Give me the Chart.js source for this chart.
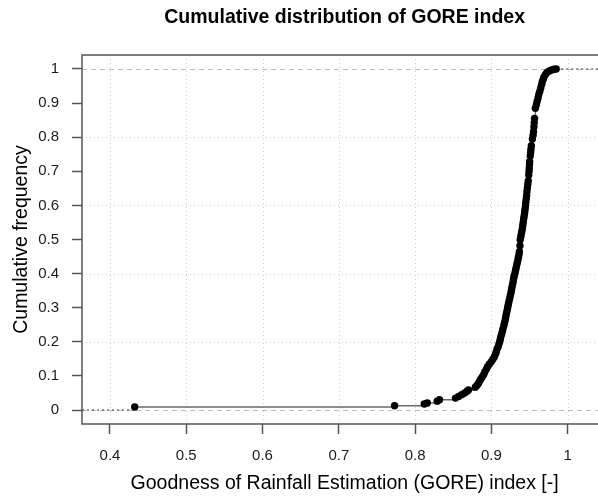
<!DOCTYPE html>
<html>
<head>
<meta charset="utf-8">
<script src="https://cdn.jsdelivr.net/npm/chart.js@4"></script>
<style>
  html, body { margin: 0; padding: 0; background: #fff; overflow: hidden; }
  /* the plot box of the original runs a little past the right edge, so the canvas is wider than the view */
  #wrap { width: 598px; height: 497px; overflow: hidden; }
</style>
</head>
<body>
<div id="wrap"><canvas id="gore-chart" width="611" height="497"></canvas></div>
<script>
// GORE index values (sorted) and their cumulative frequency
const goreIndex = [
  0.4324, 0.7731, 0.8120, 0.8160, 0.8290, 0.8320, 0.8530, 0.8570, 0.8610, 0.8650,
  0.8680, 0.8700, 0.8790, 0.8810, 0.8830, 0.8845, 0.8860, 0.8880, 0.8900, 0.8915,
  0.8935, 0.8950, 0.8975, 0.9000, 0.9020, 0.9040, 0.9055, 0.9065, 0.9075, 0.9090,
  0.9100, 0.9110, 0.9118, 0.9125, 0.9135, 0.9145, 0.9152, 0.9162, 0.9170, 0.9178,
  0.9185, 0.9190, 0.9198, 0.9205, 0.9212, 0.9218, 0.9225, 0.9232, 0.9240, 0.9248,
  0.9255, 0.9262, 0.9268, 0.9275, 0.9282, 0.9288, 0.9294, 0.9300, 0.9310, 0.9318,
  0.9325, 0.9332, 0.9340, 0.9348, 0.9355, 0.9362, 0.9368, 0.9375, 0.9378, 0.9385,
  0.9392, 0.9398, 0.9405, 0.9410, 0.9415, 0.9420, 0.9425, 0.9430, 0.9436, 0.9440,
  0.9445, 0.9448, 0.9452, 0.9458, 0.9462, 0.9466, 0.9472, 0.9478, 0.9484, 0.9490,
  0.9494, 0.9497, 0.9500, 0.9502, 0.9510, 0.9515, 0.9519, 0.9524, 0.9538, 0.9547,
  0.9553, 0.9558, 0.9562, 0.9566, 0.9577, 0.9590, 0.9600, 0.9612, 0.9622, 0.9636,
  0.9648, 0.9660, 0.9668, 0.9680, 0.9690, 0.9710, 0.9730, 0.9760, 0.9790, 0.9820,
  0.9850
];
const cumFreq = [
  0.0088, 0.0126, 0.0176, 0.0205, 0.0260, 0.0300, 0.0350, 0.0400, 0.0450, 0.0500,
  0.0550, 0.0590, 0.0670, 0.0720, 0.0780, 0.0840, 0.0900, 0.0970, 0.1040, 0.1120,
  0.1200, 0.1270, 0.1350, 0.1420, 0.1490, 0.1560, 0.1640, 0.1710, 0.1790, 0.1860,
  0.1940, 0.2010, 0.2080, 0.2160, 0.2230, 0.2310, 0.2380, 0.2460, 0.2530, 0.2600,
  0.2680, 0.2750, 0.2830, 0.2900, 0.2980, 0.3050, 0.3120, 0.3200, 0.3270, 0.3350,
  0.3420, 0.3500, 0.3570, 0.3650, 0.3720, 0.3800, 0.3870, 0.3940, 0.4020, 0.4100,
  0.4170, 0.4250, 0.4320, 0.4400, 0.4480, 0.4560, 0.4640, 0.4820, 0.4990, 0.5070,
  0.5150, 0.5220, 0.5300, 0.5380, 0.5460, 0.5540, 0.5620, 0.5700, 0.5780, 0.5860,
  0.5940, 0.6020, 0.6110, 0.6200, 0.6290, 0.6400, 0.6510, 0.6620, 0.6720, 0.6890,
  0.7000, 0.7100, 0.7200, 0.7280, 0.7450, 0.7550, 0.7650, 0.7750, 0.7950, 0.8060,
  0.8160, 0.8300, 0.8420, 0.8550, 0.8850, 0.8950, 0.9050, 0.9150, 0.9250, 0.9350,
  0.9450, 0.9550, 0.9630, 0.9700, 0.9770, 0.9840, 0.9900, 0.9940, 0.9970, 0.9990,
  1.0000
];

const xTicks = [0.4, 0.5, 0.6, 0.7, 0.8, 0.9, 1.0];
const yTicks = [0, 0.1, 0.2, 0.3, 0.4, 0.5, 0.6, 0.7, 0.8, 0.9, 1];
const yGrid = [0.2, 0.4, 0.6, 0.8];
const xLimits = [0.3633, 1.052];
const yLimits = [-0.041, 1.041];

const font = 'Arial, "Liberation Sans", sans-serif';
const boxColor = '#555';

const points = goreIndex.map((x, i) => ({ x: x, y: cumFreq[i] }));
const lastIdx = goreIndex.length - 1;

// grid lines, 0/1 reference lines and the plot box, done R-style
const rGrid = {
  id: 'rGrid',
  beforeDatasetsDraw(chart) {
    const { ctx, chartArea: a, scales: { x, y } } = chart;
    ctx.save();
    ctx.lineWidth = 1;
    ctx.strokeStyle = '#cfcfcf';
    ctx.setLineDash([1, 3]);
    xTicks.forEach(v => {
      const px = Math.round(x.getPixelForValue(v)) + 0.5;
      ctx.beginPath(); ctx.moveTo(px, a.top); ctx.lineTo(px, a.bottom); ctx.stroke();
    });
    yGrid.forEach(v => {
      const py = Math.round(y.getPixelForValue(v)) + 0.5;
      ctx.beginPath(); ctx.moveTo(a.left, py); ctx.lineTo(a.right, py); ctx.stroke();
    });
    ctx.strokeStyle = '#bdbdbd';
    ctx.setLineDash([5, 4]);
    [0, 1].forEach(v => {
      const py = Math.round(y.getPixelForValue(v)) + 0.5;
      ctx.beginPath(); ctx.moveTo(a.left, py); ctx.lineTo(a.right, py); ctx.stroke();
    });
    ctx.restore();
  },
  afterDraw(chart) {
    const { ctx, chartArea: a } = chart;
    ctx.save();
    ctx.strokeStyle = boxColor;
    ctx.lineWidth = 1.5;
    ctx.strokeRect(a.left, a.top, a.right - a.left, a.bottom - a.top);
    ctx.restore();
  }
};

new Chart('gore-chart', {
  type: 'scatter',
  data: {
    datasets: [
      {
        label: 'ecdf',
        data: points,
        showLine: true,
        stepped: true,
        borderColor: '#6a6a6a',
        borderWidth: 1.5,
        pointRadius: 3.7,
        pointHoverRadius: 3.7,
        pointBackgroundColor: '#000',
        pointBorderWidth: 0,
        order: 1
      },
      {
        label: 'left tail',
        data: [{ x: xLimits[0], y: 0 }, { x: goreIndex[0], y: 0 }],
        showLine: true,
        borderColor: '#333',
        borderWidth: 1.2,
        borderDash: [2, 3],
        pointRadius: 0,
        order: 2
      },
      {
        label: 'right tail',
        data: [{ x: goreIndex[lastIdx], y: 1 }, { x: xLimits[1], y: 1 }],
        showLine: true,
        borderColor: '#333',
        borderWidth: 1.2,
        borderDash: [2, 3],
        pointRadius: 0,
        order: 2
      }
    ]
  },
  options: {
    responsive: false,
    animation: false,
    plugins: {
      legend: { display: false },
      tooltip: { enabled: false },
      title: {
        display: true,
        text: 'Cumulative distribution of GORE index',
        fullSize: false,
        color: '#000',
        font: { family: font, size: 19.5, weight: 'bold', lineHeight: 1.2 },
        padding: { top: 6.3, bottom: 25.3 }
      }
    },
    scales: {
      x: {
        type: 'linear',
        min: xLimits[0],
        max: xLimits[1],
        afterBuildTicks: s => { s.ticks = xTicks.map(v => ({ value: v })); },
        afterFit: s => { s.height = 73; },
        grid: {
          drawOnChartArea: false,
          drawTicks: true,
          tickLength: 10,
          tickColor: boxColor,
          tickWidth: 1.5
        },
        border: { display: false },
        ticks: {
          autoSkip: false,
          maxRotation: 0,
          padding: 13,
          color: '#1a1a1a',
          font: { family: font, size: 15 },
          callback: v => String(Math.round(v * 10) / 10)
        },
        title: {
          display: true,
          text: 'Goodness of Rainfall Estimation (GORE) index [-]',
          color: '#000',
          font: { family: font, size: 19.5, lineHeight: 1.2 },
          padding: { top: 0, bottom: 2 }
        }
      },
      y: {
        type: 'linear',
        min: yLimits[0],
        max: yLimits[1],
        afterBuildTicks: s => { s.ticks = yTicks.map(v => ({ value: v })); },
        afterFit: s => { s.width = 82; },
        grid: {
          drawOnChartArea: false,
          drawTicks: true,
          tickLength: 10,
          tickColor: boxColor,
          tickWidth: 1.5
        },
        border: { display: false },
        ticks: {
          autoSkip: false,
          padding: 13,
          color: '#1a1a1a',
          font: { family: font, size: 15 },
          callback: v => String(Math.round(v * 10) / 10)
        },
        title: {
          display: true,
          text: 'Cumulative frequency',
          color: '#000',
          font: { family: font, size: 19.5, lineHeight: 1.2 },
          padding: { top: 10.3, bottom: 0 }
        }
      }
    }
  },
  plugins: [rGrid]
});
</script>
</body>
</html>
